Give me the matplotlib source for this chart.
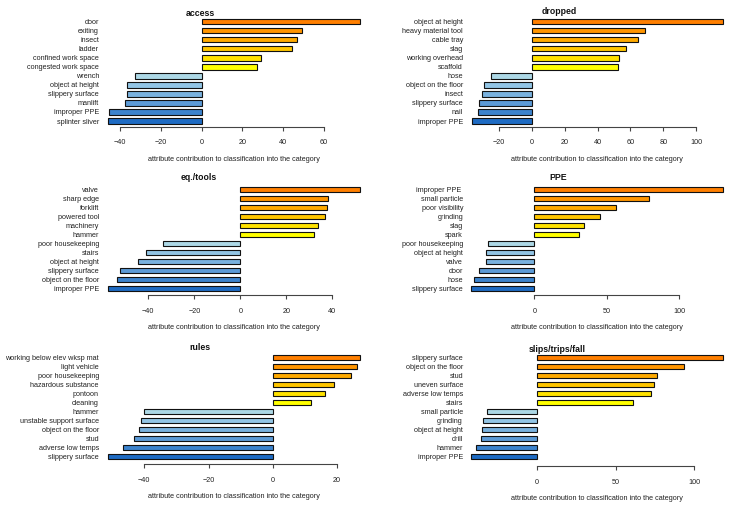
import numpy as np
import matplotlib
matplotlib.use("Agg")
import matplotlib.pyplot as plt

plt.rcParams["font.family"] = ["Liberation Sans", "DejaVu Sans"]

# attribute contributions per category, listed top to bottom as drawn
access_labels = ["door", "exiting", "insect", "ladder", "confined work space", "congested work space",
                 "wrench", "object at height", "slippery surface", "manlift", "improper PPE", "splinter sliver"]
access_values = [77.7, 49.4, 46.9, 44.5, 29.3, 27.1, -32.7, -36.5, -36.8, -37.5, -45.5, -45.8]
access_ticks = [-40, -20, 0, 20, 40, 60]

dropped_labels = ["object at height", "heavy material tool", "cable tray", "slag", "working overhead", "scaffold",
                  "hose", "object on the floor", "insect", "slippery surface", "nail", "improper PPE"]
dropped_values = [116.6, 68.9, 64.4, 57.3, 53.0, 52.6, -24.8, -29.1, -30.7, -32.5, -32.9, -36.8]
dropped_ticks = [-20, 0, 20, 40, 60, 80, 100]

tools_labels = ["valve", "sharp edge", "forklift", "powered tool", "machinery", "hammer",
                "poor housekeeping", "stairs", "object at height", "slippery surface", "object on the floor", "improper PPE"]
tools_values = [52.0, 38.3, 37.6, 36.8, 33.9, 32.0, -33.5, -41.0, -44.6, -52.2, -53.5, -57.4]
tools_ticks = [-40, -20, 0, 20, 40]

ppe_labels = ["improper PPE ", "small particle", "poor visibility", "grinding", "slag", "spark",
              "poor housekeeping", "object at height", "valve", "door", "hose", "slippery surface"]
ppe_values = [130.6, 79.5, 56.5, 45.4, 34.3, 30.7, -31.8, -33.2, -33.2, -38.2, -41.9, -43.5]
ppe_ticks = [0, 50, 100]

rules_labels = ["working below elev wksp mat", "light vehicle", "poor housekeeping", "hazardous substance", "pontoon", "cleaning",
                "hammer", "unstable support surface", "object on the floor", "stud", "adverse low temps", "slippery surface"]
rules_values = [27.2, 26.4, 24.5, 19.1, 16.2, 12.0, -40.1, -41.1, -41.7, -43.1, -46.5, -51.2]
rules_ticks = [-40, -20, 0, 20]

slips_labels = ["slippery surface", "object on the floor", "stud", "uneven surface", "adverse low temps", "stairs",
                "small particle", "grinding", "object at height", "drill", "hammer", "improper PPE"]
slips_values = [118.4, 93.6, 76.3, 74.2, 72.5, 61.3, -31.5, -33.8, -34.7, -35.1, -38.7, -41.5]
slips_ticks = [0, 50, 100]

pos_colors = ["#FF7F00", "#FF9500", "#FFAA00", "#FFC600", "#FFE200", "#FFFF00"]
neg_colors = ["#ADD8E6", "#93C5E5", "#79B1DE", "#5C9AD6", "#3C83CD", "#1E6BC3"]

# (title, labels, values, ticks, zero px, px per unit, top bar px, bottom bar px, axis px, title x, title y)
panels = [
    ("access", access_labels, access_values, access_ticks, 201.7, 2.037, 21.7, 121.0, 127.0, 200, 15.5),
    ("dropped", dropped_labels, dropped_values, dropped_ticks, 532.0, 1.64, 21.7, 121.0, 127.0, 559, 14.0),
    ("eq./tools", tools_labels, tools_values, tools_ticks, 240.3, 2.3, 189.8, 288.3, 295.3, 199, 180.5),
    ("PPE", ppe_labels, ppe_values, ppe_ticks, 534.3, 1.447, 189.8, 288.3, 295.3, 558, 180.5),
    ("rules", rules_labels, rules_values, rules_ticks, 272.7, 3.21, 357.3, 456.3, 464.0, 200, 349.5),
    ("slips/trips/fall", slips_labels, slips_values, slips_ticks, 536.7, 1.577, 357.3, 456.3, 466.0, 557, 351.5),
]

W, H = 730, 521
fig = plt.figure(figsize=(W / 100, H / 100), dpi=100)

for title, labels, values, ticks, x0, ppu, yt, yb, ya, tx, ty in panels:
    values = np.array(values)
    pad = 0.02 * (values.max() - values.min())
    xlim = (values.min() - pad, values.max() + pad)
    left_px = x0 + xlim[0] * ppu
    width_px = (xlim[1] - xlim[0]) * ppu
    n = len(values)
    sp = (yb - yt) / (n - 1)
    m = (ya - yb) / sp
    top_px = yt - m * sp
    ax = fig.add_axes([left_px / W, 1 - ya / H, width_px / W, (ya - top_px) / H])

    pos = np.arange(n)
    colors = pos_colors + neg_colors
    ax.barh(pos, values, height=0.6, color=colors, edgecolor="#111111", linewidth=0.8)
    ax.set_xlim(*xlim)
    ax.set_ylim(n - 1 + m, -m)

    ax.set_yticks(pos)
    ax.set_yticklabels(labels, fontsize=5.2, color="#222222")
    label_right = 99 if x0 < 365 else 463
    ax.tick_params(axis="y", length=0, pad=(left_px - label_right) * 0.72)

    ax.set_xticks(ticks)
    ax.set_xticklabels([str(t).replace("-", "\u2212") for t in ticks], fontsize=5.2, color="#222222")
    ax.tick_params(axis="x", length=3, width=0.8, color="#444444", pad=6)
    ax.set_xlabel("attribute contribution to classification into the category",
                  fontsize=5.2, color="#222222", labelpad=6.5)

    for side in ["top", "right", "left"]:
        ax.spines[side].set_visible(False)
    ax.spines["bottom"].set_bounds(ticks[0], ticks[-1])
    ax.spines["bottom"].set_color("#444444")
    ax.spines["bottom"].set_linewidth(0.8)

    fig.text(tx / W, 1 - ty / H, title, ha="center", va="baseline",
             fontsize=6.3, fontweight="bold", color="#111111")

fig.savefig("out.png", dpi=100)
